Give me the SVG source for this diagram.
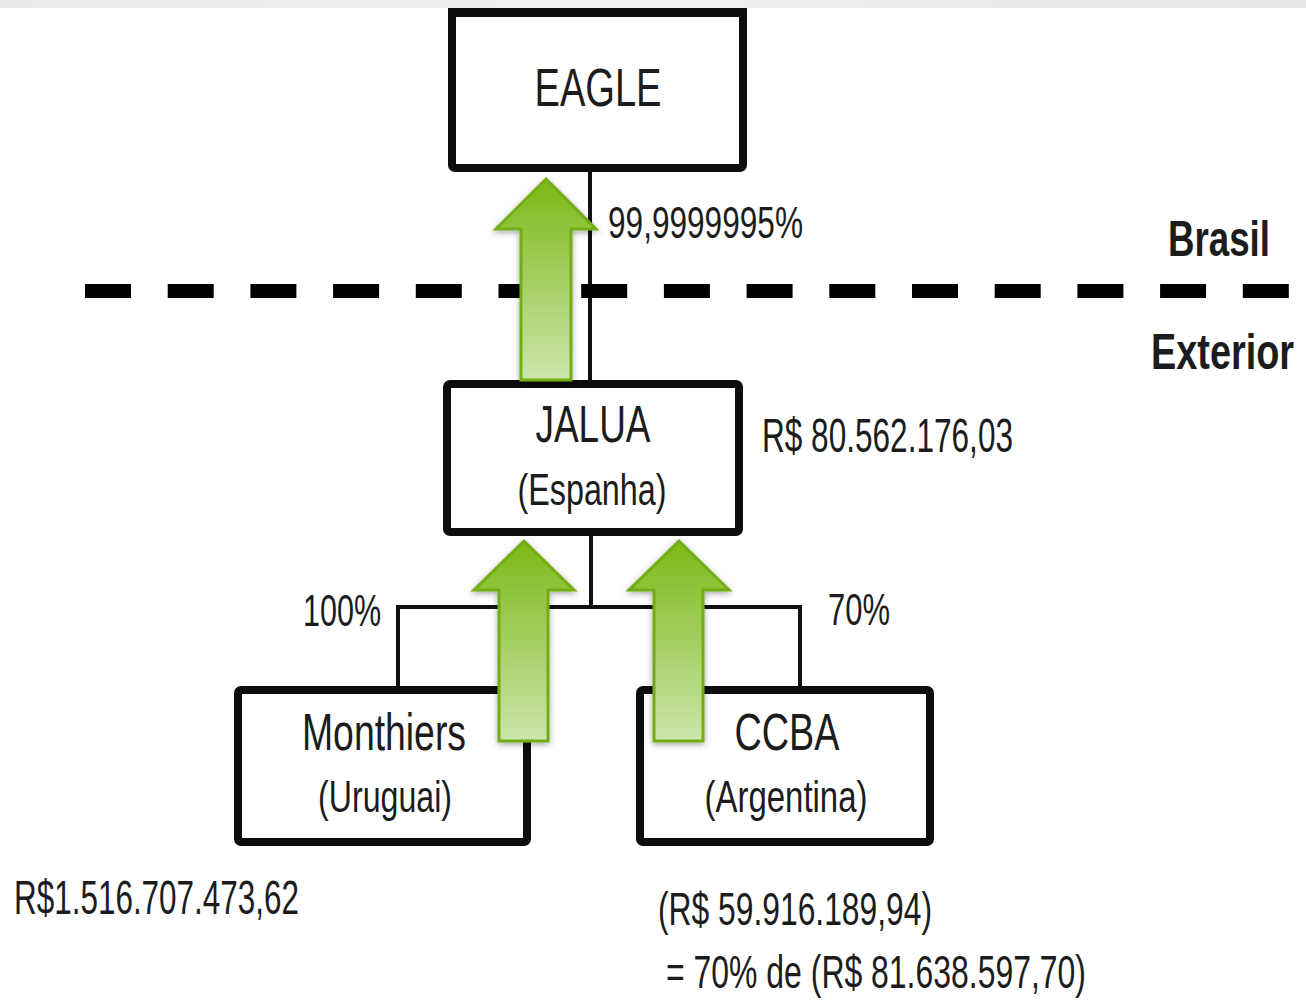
<svg xmlns="http://www.w3.org/2000/svg" width="1306" height="1002" viewBox="0 0 1306 1002">
<style>
.box{fill:#fff;stroke:#0d0d0d;stroke-width:8;}
.ln{fill:none;stroke:#111;stroke-width:4;}
.t{font-family:"Liberation Sans",Arial,sans-serif;fill:#1c1c1c;}
.b{font-weight:bold;}
.arr{fill:url(#g);stroke:#72ad12;stroke-width:3;filter:url(#sh);}
</style>
<defs>
<linearGradient id="g" x1="0" y1="0" x2="0" y2="1">
<stop offset="0" stop-color="#7cb817"/>
<stop offset="1" stop-color="#cbe6ab"/>
</linearGradient>
<linearGradient id="band" x1="0" y1="0" x2="1" y2="0">
<stop offset="0" stop-color="#ebebeb"/>
<stop offset="0.5" stop-color="#f1f1f1"/>
<stop offset="1" stop-color="#e6e6e6"/>
</linearGradient>
<filter id="sh" x="-30%" y="-10%" width="160%" height="130%">
<feDropShadow dx="0" dy="2" stdDeviation="3" flood-color="#000" flood-opacity="0.35"/>
</filter>
</defs>
<rect x="0" y="0" width="1306" height="1002" fill="#fff"/>
<rect x="0" y="0" width="1306" height="8" fill="url(#band)"/>

<g id="connectors">
<line class="ln" x1="590" y1="168" x2="590" y2="384"/>
<line class="ln" x1="591" y1="532" x2="591" y2="607"/>
<polyline class="ln" points="398,690 398,607 800,607 800,690"/>
<line x1="85" y1="291" x2="1306" y2="291" stroke="#000" stroke-width="14" stroke-dasharray="46 36.7"/>
</g>

<g id="eagle">
<rect class="box" x="452" y="13" width="291" height="155" rx="3"/>
<line x1="448" y1="12" x2="747" y2="12" stroke="#0d0d0d" stroke-width="8"/>
<text class="t" x="598" y="106" font-size="54" text-anchor="middle" textLength="127" lengthAdjust="spacingAndGlyphs">EAGLE</text>
</g>

<g id="jalua">
<rect class="box" x="447" y="384" width="292" height="148" rx="3"/>
<text class="t" x="593" y="442" font-size="52" text-anchor="middle" textLength="115" lengthAdjust="spacingAndGlyphs">JALUA</text>
<text class="t" x="592" y="505" font-size="44" text-anchor="middle" textLength="149" lengthAdjust="spacingAndGlyphs">(Espanha)</text>
</g>

<g id="monthiers">
<rect class="box" x="238" y="690" width="289" height="152" rx="3"/>
<text class="t" x="384" y="750" font-size="52" text-anchor="middle" textLength="164" lengthAdjust="spacingAndGlyphs">Monthiers</text>
<text class="t" x="385" y="812" font-size="44" text-anchor="middle" textLength="134" lengthAdjust="spacingAndGlyphs">(Uruguai)</text>
</g>

<g id="ccba">
<rect class="box" x="640" y="690" width="290" height="152" rx="3"/>
<text class="t" x="787" y="750" font-size="52" text-anchor="middle" textLength="105" lengthAdjust="spacingAndGlyphs">CCBA</text>
<text class="t" x="786" y="812" font-size="44" text-anchor="middle" textLength="163" lengthAdjust="spacingAndGlyphs">(Argentina)</text>
</g>

<g id="labels">
<text class="t" x="608" y="238" font-size="44" textLength="195" lengthAdjust="spacingAndGlyphs">99,9999995%</text>
<text class="t b" x="1168" y="256" font-size="50" textLength="102" lengthAdjust="spacingAndGlyphs">Brasil</text>
<text class="t b" transform="translate(1151,369) scale(1,1.32)" x="0" y="0" font-size="38" textLength="143" lengthAdjust="spacingAndGlyphs">Exterior</text>
<text class="t" x="762" y="452" font-size="48" textLength="251" lengthAdjust="spacingAndGlyphs">R$ 80.562.176,03</text>
<text class="t" x="303" y="626" font-size="44" textLength="78" lengthAdjust="spacingAndGlyphs">100%</text>
<text class="t" x="828" y="625" font-size="44" textLength="62" lengthAdjust="spacingAndGlyphs">70%</text>
<text class="t" x="14" y="914" font-size="48" textLength="285" lengthAdjust="spacingAndGlyphs">R$1.516.707.473,62</text>
<text class="t" x="658" y="925" font-size="46" textLength="274" lengthAdjust="spacingAndGlyphs">(R$ 59.916.189,94)</text>
<text class="t" x="666" y="988" font-size="46" textLength="420" lengthAdjust="spacingAndGlyphs">= 70% de (R$ 81.638.597,70)</text>
</g>

<g id="arrows">
<polygon class="arr" points="521,380 521,229 496,229 546,179 596,229 571,229 571,380"/>
<polygon class="arr" points="499,741 499,590 474,590 524,541 574,590 548,590 548,741"/>
<polygon class="arr" points="654,741 654,590 629,590 679,541 729,590 703,590 703,741"/>
</g>
</svg>
